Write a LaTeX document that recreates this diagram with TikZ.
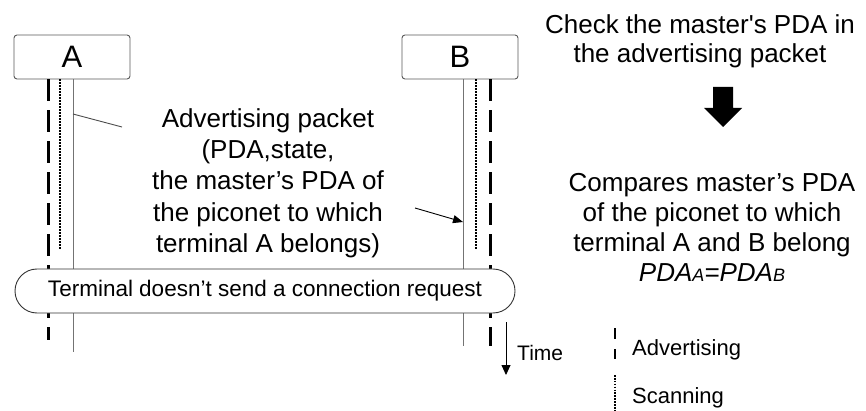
\documentclass[tikz,border=0pt]{standalone}
\usepackage{fontspec}
\setmainfont{Liberation Sans}
\usetikzlibrary{arrows.meta,shapes.misc}
\newcommand\subidx[1]{{\fontsize{18}{18}\selectfont #1}}
\begin{document}
\begin{tikzpicture}[x=1pt,y=-1pt,
  lifeline/.style={draw=black!55, line width=0.9pt},
  advline/.style={line width=3pt, dash pattern=on 22pt off 9pt},
  scanline/.style={line width=2.3pt, dash pattern=on 1.7pt off 1.3pt},
  station/.style={draw=black!65, line width=0.9pt, rounded corners=3pt,
    minimum width=116pt, minimum height=44pt, inner sep=0pt, fill=white,
    font=\fontsize{31}{31}\selectfont},
  txt/.style={inner sep=0pt, align=center, font=\fontsize{26}{31.3}\selectfont},
  smalltxt/.style={inner sep=0pt, anchor=base west},
  msgtip/.style={-{Triangle[length=10pt,width=8pt]}, line width=0.9pt},
]
\useasboundingbox (0,0) rectangle (866,411);

% terminals
\node[station] (boxA) at (72,57) {A};
\node[station] (boxB) at (460,57) {B};

% end points of the lifelines
\coordinate (aAdvEnd)  at (48,340);
\coordinate (aScanEnd) at (60,249);
\coordinate (aLifeEnd) at (73,352);
\coordinate (bLifeEnd) at (463,346);
\coordinate (bScanEnd) at (476,249);
\coordinate (bAdvEnd)  at (490,346);

% terminal A: advertising, scanning, time line
\draw[advline]  (boxA.south -| aAdvEnd)  -- (aAdvEnd);
\draw[scanline] (boxA.south -| aScanEnd) -- (aScanEnd);
\draw[lifeline] (boxA.south -| aLifeEnd) -- (aLifeEnd);

% terminal B: time line, scanning, advertising
\draw[lifeline] (boxB.south -| bLifeEnd) -- (bLifeEnd);
\draw[scanline] (boxB.south -| bScanEnd) -- (bScanEnd);
\draw[advline]  (boxB.south -| bAdvEnd)  -- (bAdvEnd);

% advertising packet sent by A and received by B
\node[txt] (advpkt) at (268,183) {Advertising packet\\(PDA,state,\\the master’s PDA of\\the piconet to which\\terminal A belongs)};
\coordinate (leadA)   at (73,114);
\coordinate (leadEnd) at (122,127);
\draw[draw=black!70, line width=0.9pt] (leadA) -- (leadEnd);
\coordinate (msgStart) at (415,208);
\coordinate (msgEnd)   at (463,222);
\draw[msgtip] (msgStart) -- (msgEnd);

% no connection request
\node[draw=black!80, line width=0.9pt, rounded rectangle, fill=white,
      minimum width=500pt, minimum height=44pt, inner sep=0pt,
      font=\fontsize{22.5}{27}\selectfont] (noreq) at (265,291)
      {Terminal doesn’t send a connection request};

% time axis
\coordinate (timeTop) at (506,322);
\coordinate (timeEnd) at (506,375);
\draw[-{Triangle[length=10pt,width=9pt]}, line width=0.9pt] (timeTop) -- (timeEnd);
\node[smalltxt, font=\fontsize{21}{25}\selectfont] (time) at (517,360) {Time};

% processing at terminal B
\node[txt, font=\fontsize{26}{29}\selectfont] (check) at (700,40.8)
  {Check the master\textquotesingle s PDA in\\the advertising packet};
\fill (713,87) -- (733,87) -- (733,108) -- (742,108) -- (723,127)
      -- (704,108) -- (713,108) -- cycle;
\node[txt, font=\fontsize{26}{30}\selectfont] (compare) at (712,227.5)
  {Compares master’s PDA\\of the piconet to which\\terminal A and B belong\\\textit{PDA\subidx{A}=PDA\subidx{B}}};

% legend
\coordinate (legAdvTop)  at (615,328);
\coordinate (legAdvEnd)  at (615,359);
\coordinate (legScanTop) at (615,375);
\coordinate (legScanEnd) at (615,411);
\draw[line width=2.5pt, dash pattern=on 10.5pt off 10.5pt] (legAdvTop) -- (legAdvEnd);
\draw[line width=2pt, dash pattern=on 1.6pt off 1.3pt] (legScanTop) -- (legScanEnd);
\node[smalltxt, font=\fontsize{22}{26}\selectfont] (legAdv)  at (632,355) {Advertising};
\node[smalltxt, font=\fontsize{22}{26}\selectfont] (legScan) at (632,403) {Scanning};
\end{tikzpicture}
\end{document}
